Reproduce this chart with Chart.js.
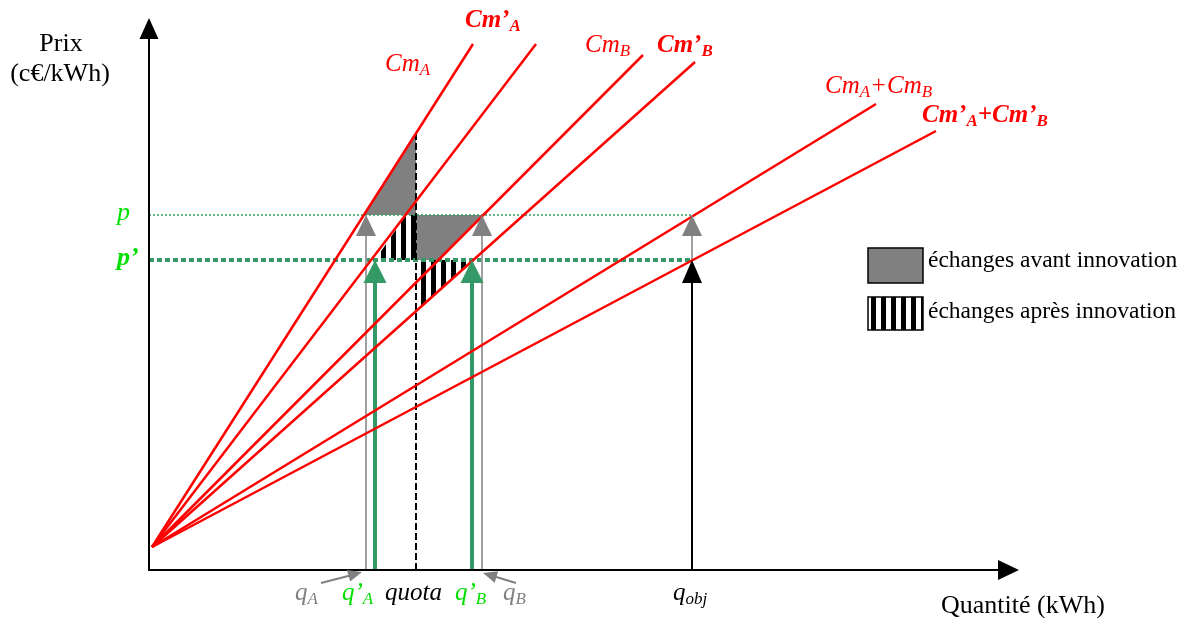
<!DOCTYPE html>
<html>
<head>
<meta charset="utf-8">
<script src="https://cdn.jsdelivr.net/npm/chart.js@4"></script>
<style>
body{margin:0;background:#fff}
#wrap{width:1186px;height:618px;position:relative}
</style>
</head>
<body>
<div id="wrap"><canvas id="graph"></canvas></div>
<script>
// courbes de coût marginal : point de départ commun, extrémité haute
const curveNames = ['Cm_A', 'Cm’_A', 'Cm_B', 'Cm’_B', 'Cm_A+Cm_B', 'Cm’_A+Cm’_B'];
const curveStart = [0.3, 2.3];
const curveEndQ = [32.4, 38.7, 49.4, 54.6, 72.7, 78.7];
const curveEndP = [52.6, 52.6, 51.5, 50.8, 46.6, 43.9];
const curveBold = [false, true, false, true, false, true];

// prix
const priceNames = ['p', 'p’'];
const priceValues = [35.5, 31.0];

// quantités
const qNames = ['q_A', 'q’_A', 'quota', 'q’_B', 'q_B', 'q_obj'];
const qValues = [21.7, 22.6, 26.7, 32.3, 33.3, 54.3];
const quotaTop = 43.7;

// zones d'échange
const avantLeftQ = [21.4, 26.7, 26.7];
const avantLeftP = [35.5, 43.5, 35.5];
const avantRightQ = [26.7, 33.3, 26.7];
const avantRightP = [35.5, 35.5, 28.8];
const apresLeftQ = [22.6, 25.7, 26.7, 26.7];
const apresLeftP = [31.0, 35.5, 35.5, 31.0];
const apresRightQ = [26.7, 32.3, 26.7];
const apresRightP = [31.0, 31.0, 25.9];

const legendLabels = ['échanges avant innovation', 'échanges après innovation'];

const RED = '#ff0000';
const GREEN = '#339966';
const LIME = '#00e000';
const GREY = '#808080';

// motif rayé
const pc = document.createElement('canvas');
pc.width = 10; pc.height = 10;
const pg = pc.getContext('2d');
pg.fillStyle = '#fff'; pg.fillRect(0, 0, 10, 10);
pg.fillStyle = '#000'; pg.fillRect(1, 0, 5, 10);
const hatch = pg.createPattern(pc, 'repeat');

function pts(qs, ps) {
  return qs.map((q, i) => ({x: q, y: ps[i]}));
}
function seg(x1, y1, x2, y2, color, width, dash) {
  return {data: [{x: x1, y: y1}, {x: x2, y: y2}], borderColor: color, borderWidth: width,
    borderDash: dash || [], pointRadius: 0, fill: false, borderCapStyle: 'butt'};
}
function poly(qs, ps, bg) {
  return {data: pts(qs, ps), backgroundColor: bg, borderColor: 'rgba(0,0,0,0)', borderWidth: 0,
    pointRadius: 0, fill: 'shape'};
}

const datasets = [];
// courbes rouges
curveNames.forEach((n, i) => {
  datasets.push(seg(curveStart[0], curveStart[1], curveEndQ[i], curveEndP[i], RED, 2.5));
});
// flèches (tiges)
const qObj = qValues[5];
datasets.push(seg(qValues[0], 0, qValues[0], priceValues[0] - 1, '#a0a0a0', 2));
datasets.push(seg(qValues[4], 0, qValues[4], priceValues[0] - 1, '#a0a0a0', 2));
datasets.push(seg(qObj, priceValues[1], qObj, priceValues[0] - 1, '#a0a0a0', 2));
datasets.push(seg(qValues[1], 0, qValues[1], priceValues[1] - 1, GREEN, 4));
datasets.push(seg(qValues[3], 0, qValues[3], priceValues[1] - 1, GREEN, 4));
datasets.push(seg(qObj, 0, qObj, priceValues[1] - 1, '#000', 2));
// quota
datasets.push(seg(qValues[2], 0, qValues[2], quotaTop, '#000', 2, [7, 3]));
// niveaux de prix
datasets.push(seg(0, priceValues[0], qObj, priceValues[0], GREEN, 1.5, [2, 2]));
datasets.push(seg(0, priceValues[1], qObj, priceValues[1], GREEN, 4, [5, 3]));
// zones
datasets.push(poly(apresLeftQ, apresLeftP, hatch));
datasets.push(poly(apresRightQ, apresRightP, hatch));
datasets.push(poly(avantLeftQ, avantLeftP, GREY));
datasets.push(poly(avantRightQ, avantRightP, GREY));

function head(ctx, tx, ty, ang, len, half, color) {
  ctx.save();
  ctx.translate(tx, ty);
  ctx.rotate(ang);
  ctx.beginPath();
  ctx.moveTo(0, 0);
  ctx.lineTo(-len, -half);
  ctx.lineTo(-len, half);
  ctx.closePath();
  ctx.fillStyle = color;
  ctx.fill();
  ctx.restore();
}

function rich(ctx, s, x, y, size, bold, italic, color) {
  const parts = s.split(/_([A-Za-z]+)/);
  let cx = x;
  ctx.fillStyle = color;
  ctx.textBaseline = 'alphabetic';
  ctx.textAlign = 'left';
  parts.forEach((t, i) => {
    const sub = i % 2 === 1;
    const fs = sub ? Math.round(size * 0.68) : size;
    ctx.font = (italic ? 'italic ' : '') + (bold ? 'bold ' : '') + fs + 'px "Liberation Serif"';
    ctx.fillText(t, cx, sub ? y + size * 0.14 : y);
    cx += ctx.measureText(t).width;
  });
}

const decor = {
  id: 'decor',
  afterDatasetsDraw(chart) {
    const ctx = chart.ctx;
    const xs = chart.scales.x, ys = chart.scales.y;
    const X = v => xs.getPixelForValue(v), Y = v => ys.getPixelForValue(v);
    const up = -Math.PI / 2;

    // têtes de flèches
    head(ctx, X(qValues[0]), Y(priceValues[0]), up, 21, 10, GREY);
    head(ctx, X(qValues[4]), Y(priceValues[0]), up, 21, 10, GREY);
    head(ctx, X(qObj), Y(priceValues[0]), up, 21, 10, GREY);
    head(ctx, X(qValues[1]), Y(priceValues[1]), up, 23, 11.5, GREEN);
    head(ctx, X(qValues[3]), Y(priceValues[1]), up, 23, 11.5, GREEN);
    head(ctx, X(qObj), Y(priceValues[1]), up, 23, 10, '#000');

    // axes
    const x0 = X(0), y0 = Y(0);
    ctx.strokeStyle = '#000';
    ctx.lineWidth = 2;
    ctx.beginPath();
    ctx.moveTo(x0, y0 + 1);
    ctx.lineTo(x0, chart.chartArea.top + 18);
    ctx.moveTo(x0 - 1, y0);
    ctx.lineTo(chart.chartArea.right - 18, y0);
    ctx.stroke();
    head(ctx, x0, chart.chartArea.top, up, 21, 9.5, '#000');
    head(ctx, chart.chartArea.right, y0, 0, 21, 10, '#000');

    // petites flèches vers qA et qB
    ctx.strokeStyle = GREY;
    ctx.lineWidth = 2;
    ctx.beginPath();
    ctx.moveTo(321, 583); ctx.lineTo(352, 575);
    ctx.moveTo(516, 583); ctx.lineTo(493, 576);
    ctx.stroke();
    head(ctx, X(qValues[0]) - 4, y0 + 2, Math.atan2(-11, 39), 14, 6, GREY);
    head(ctx, X(qValues[4]) + 1, y0 + 3, Math.atan2(-10, -33), 14, 6, GREY);

    // titres des axes
    ctx.fillStyle = '#000';
    ctx.font = '26px "Liberation Serif"';
    ctx.textAlign = 'center';
    ctx.fillText('Prix', 61, 51);
    ctx.fillText('(c€/kWh)', 60, 81);
    ctx.textAlign = 'left';
    ctx.fillText('Quantité (kWh)', 941, 613);

    // étiquettes des courbes
    const labelPos = [[385, 71], [465, 27], [585, 52], [657, 52], [825, 93], [922, 122]];
    curveNames.forEach((n, i) => {
      rich(ctx, n, labelPos[i][0], labelPos[i][1], 25, curveBold[i], true, RED);
    });

    // prix
    rich(ctx, priceNames[0], 117, 220, 26, false, true, LIME);
    rich(ctx, priceNames[1], 117, 265, 26, true, true, LIME);

    // quantités
    const qPos = [[295, 600], [342, 600], [385, 600], [455, 600], [503, 600], [673, 600]];
    const qCol = [GREY, LIME, '#000', LIME, GREY, '#000'];
    qNames.forEach((n, i) => {
      rich(ctx, n, qPos[i][0], qPos[i][1], 25, false, true, qCol[i]);
    });

    // légende
    ctx.lineWidth = 1.5;
    ctx.strokeStyle = '#000';
    ctx.fillStyle = GREY;
    ctx.fillRect(868, 248, 55, 35);
    ctx.strokeRect(868, 248, 55, 35);
    ctx.fillStyle = hatch;
    ctx.fillRect(868, 297, 55, 33);
    ctx.strokeRect(868, 297, 55, 33);
    ctx.fillStyle = '#000';
    ctx.font = '23.5px "Liberation Serif"';
    ctx.fillText(legendLabels[0], 928, 267);
    ctx.fillText(legendLabels[1], 928, 318);
  }
};

new Chart(document.getElementById('graph'), {
  type: 'line',
  data: {datasets},
  options: {
    responsive: true,
    maintainAspectRatio: false,
    animation: false,
    layout: {padding: {left: 149, right: 167, top: 18, bottom: 48}},
    plugins: {legend: {display: false}, tooltip: {enabled: false}},
    scales: {
      x: {type: 'linear', min: 0, max: 87, display: false},
      y: {type: 'linear', min: 0, max: 55.2, display: false}
    }
  },
  plugins: [decor]
});
</script>
</body>
</html>
